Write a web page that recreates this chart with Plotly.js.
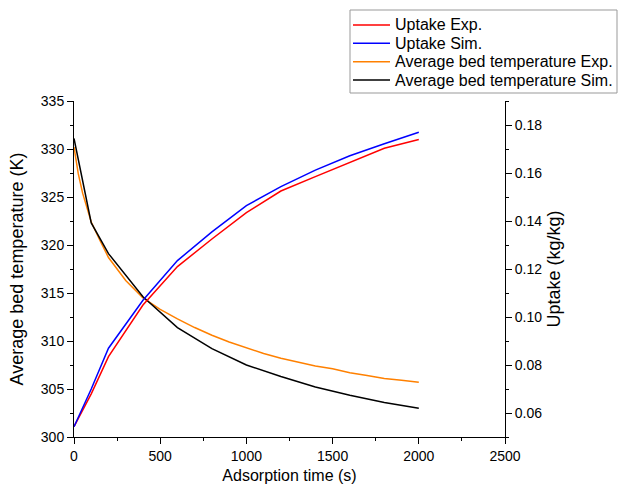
<!DOCTYPE html>
<html>
<head>
<meta charset="utf-8">
<script src="https://cdn.plot.ly/plotly-3.0.1.min.js"></script>
<style>html,body{margin:0;padding:0;background:#fff;}#chart{width:618px;height:485px;}</style>
</head>
<body>
<div id="chart"></div>
<script>
// Uptake (right axis)
const timeSim = [0, 100, 200, 400, 600, 800, 1000, 1200, 1400, 1600, 1800, 2000];
const uptakeExp = [0.0543, 0.068, 0.0835, 0.105, 0.121, 0.1325, 0.1435, 0.1525, 0.1585, 0.1645, 0.1703, 0.174];
const uptakeSim = [0.0543, 0.070, 0.087, 0.107, 0.1235, 0.1355, 0.1464, 0.1543, 0.1612, 0.1672, 0.1722, 0.177];
// Average bed temperature (left axis)
const timeExpT = [0, 25, 50, 100, 150, 200, 300, 400, 500, 600, 700, 800, 900, 1000, 1100, 1200, 1300, 1400, 1500, 1600, 1700, 1800, 1900, 2000];
const tempExp = [330.2, 327.4, 325.4, 322.4, 320.5, 318.7, 316.3, 314.5, 313.3, 312.3, 311.4, 310.6, 309.9, 309.3, 308.7, 308.2, 307.8, 307.4, 307.1, 306.7, 306.4, 306.1, 305.9, 305.7];
const tempSim = [331.1, 322.3, 319.1, 314.6, 311.4, 309.2, 307.5, 306.3, 305.2, 304.35, 303.6, 303.0];

const seriesNames = ["Uptake Exp.", "Uptake Sim.", "Average bed temperature Exp.", "Average bed temperature Sim."];
const seriesColors = ["#ff0000", "#0000ff", "#ff8000", "#000000"];
const xTitle = "Adsorption time (s)";
const yLeftTitle = "Average bed temperature (K)";
const yRightTitle = "Uptake (kg/kg)";

const font = "Liberation Sans, Arial, sans-serif";

const traces = [
  {x: timeSim, y: uptakeExp, name: seriesNames[0], yaxis: "y2", mode: "lines", line: {color: seriesColors[0], width: 1.5}},
  {x: timeSim, y: uptakeSim, name: seriesNames[1], yaxis: "y2", mode: "lines", line: {color: seriesColors[1], width: 1.5}},
  {x: timeExpT, y: tempExp, name: seriesNames[2], yaxis: "y", mode: "lines", line: {color: seriesColors[2], width: 1.5}},
  {x: timeSim, y: tempSim, name: seriesNames[3], yaxis: "y", mode: "lines", line: {color: seriesColors[3], width: 1.5}}
];

// page geometry (pixels) used to place the legend box in paper coordinates
const W = 618, H = 485;
const M = {l: 74, r: 113, t: 101, b: 48};
const PW = W - M.l - M.r, PH = H - M.t - M.b;
const px = X => (X - M.l) / PW;
const py = Y => (H - M.b - Y) / PH;

const shapes = [{
  type: "rect", xref: "paper", yref: "paper",
  x0: px(350), x1: px(617), y0: py(93), y1: py(10),
  line: {color: "#999", width: 1}, fillcolor: "#fff", layer: "above"
}];
const annotations = [];
const rowY = [25, 43.3, 61.7, 80];
seriesNames.forEach((n, i) => {
  shapes.push({
    type: "line", xref: "paper", yref: "paper",
    x0: px(353), x1: px(390), y0: py(rowY[i]), y1: py(rowY[i]),
    line: {color: seriesColors[i], width: 1.5}, layer: "above"
  });
  annotations.push({
    xref: "paper", yref: "paper", x: px(393), y: py(rowY[i]),
    xanchor: "left", yanchor: "middle", showarrow: false, text: n,
    font: {family: font, size: 16, color: "#000"}
  });
});

const axisCommon = {
  showgrid: false, zeroline: false, showline: true, linecolor: "#000", linewidth: 1,
  ticks: "outside", ticklen: 6, tickwidth: 1, tickcolor: "#000",
  tickfont: {family: font, size: 14, color: "#000"}
};

const layout = {
  width: W, height: H,
  margin: M,
  paper_bgcolor: "#fff", plot_bgcolor: "#fff",
  font: {family: font, color: "#000"},
  showlegend: false,
  shapes: shapes,
  annotations: annotations,
  xaxis: Object.assign({}, axisCommon, {
    range: [0, 2500], dtick: 500, tick0: 0,
    minor: {dtick: 250, ticklen: 3, tickcolor: "#000", ticks: "outside"},
    title: {text: xTitle, font: {family: font, size: 16, color: "#000"}, standoff: 7}
  }),
  yaxis: Object.assign({}, axisCommon, {
    range: [300, 335], dtick: 5, tick0: 300,
    minor: {dtick: 2.5, ticklen: 3, tickcolor: "#000", ticks: "outside"},
    title: {text: yLeftTitle, font: {family: font, size: 18, color: "#000"}, standoff: 12}
  }),
  yaxis2: Object.assign({}, axisCommon, {
    overlaying: "y", side: "right", anchor: "x",
    range: [0.05, 0.19], dtick: 0.02, tick0: 0.06, tickformat: ".2f",
    minor: {dtick: 0.01, ticklen: 3, tickcolor: "#000", ticks: "outside"},
    title: {text: yRightTitle, font: {family: font, size: 18, color: "#000"}, standoff: 6}
  })
};

Plotly.newPlot("chart", traces, layout, {displayModeBar: false, staticPlot: true});
</script>
</body>
</html>
